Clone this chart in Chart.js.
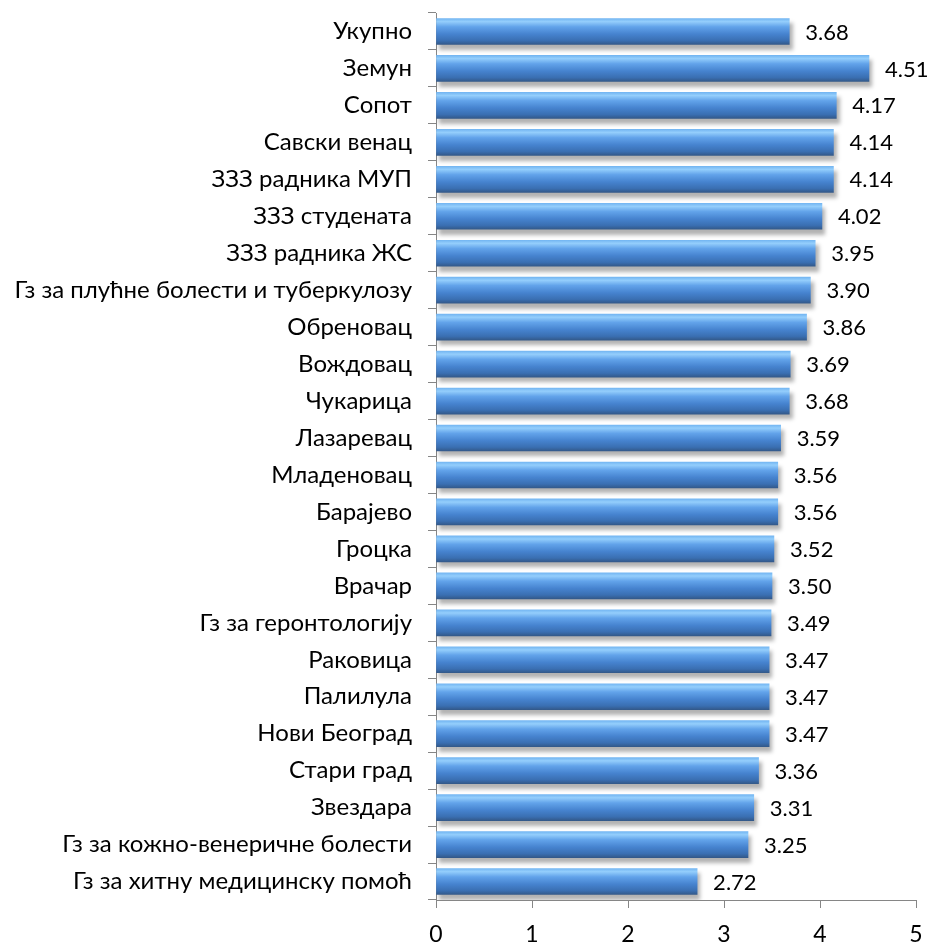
<!DOCTYPE html>
<html lang="sr">
<head>
    <meta charset="UTF-8">
    <script src="https://cdn.jsdelivr.net/npm/chart.js"></script>
    <title>Chart</title>
</head>
<style>
    body { margin: 0; background: #fff; }
</style>
<body>
    <canvas id="barChart" width="935" height="945"></canvas>
    <script>
        // data
        var categories = [
            'Укупно', 'Земун', 'Сопот', 'Савски венац', 'ЗЗЗ радника МУП',
            'ЗЗЗ студената', 'ЗЗЗ радника ЖС', 'Гз за плућне болести и туберкулозу',
            'Обреновац', 'Вождовац', 'Чукарица', 'Лазаревац', 'Младеновац',
            'Барајево', 'Гроцка', 'Врачар', 'Гз за геронтологију', 'Раковица',
            'Палилула', 'Нови Београд', 'Стари град', 'Звездара',
            'Гз за кожно-венеричне болести', 'Гз за хитну медицинску помоћ'
        ];
        var values = [3.68, 4.51, 4.17, 4.14, 4.14, 4.02, 3.95, 3.90, 3.86, 3.69, 3.68, 3.59,
            3.56, 3.56, 3.52, 3.50, 3.49, 3.47, 3.47, 3.47, 3.36, 3.31, 3.25, 2.72];
        var xTicks = [0, 1, 2, 3, 4, 5];

        var barThickness = 26;
        var fontFamily = 'Lato, "Open Sans", sans-serif';

        // vertical gradient per bar, built from the scale position
        function barGradient(context) {
            var chart = context.chart;
            var yScale = chart.scales.y;
            if (!yScale || context.dataIndex === undefined) return '#4a8cd8';
            var yc = yScale.getPixelForValue(context.dataIndex);
            if (!isFinite(yc)) return '#4a8cd8';
            var top = yc - barThickness / 2, bottom = yc + barThickness / 2;
            var g = chart.ctx.createLinearGradient(0, top, 0, bottom);
            g.addColorStop(0, '#74b6f2');
            g.addColorStop(0.12, '#94cefc');
            g.addColorStop(0.32, '#62a3ea');
            g.addColorStop(0.6, '#4683cf');
            g.addColorStop(0.85, '#3a6fb2');
            g.addColorStop(1, '#33598a');
            return g;
        }

        // soft shadow under the bars
        var shadowPlugin = {
            id: 'barShadow',
            beforeDatasetDraw: function (chart) {
                var ctx = chart.ctx;
                ctx.save();
                ctx.shadowColor = 'rgba(0,0,0,0.3)';
                ctx.shadowBlur = 4;
                ctx.shadowOffsetX = 3;
                ctx.shadowOffsetY = 5;
            },
            afterDatasetDraw: function (chart) {
                chart.ctx.restore();
            }
        };

        // value labels at the end of each bar
        var valueLabels = {
            id: 'valueLabels',
            afterDatasetsDraw: function (chart) {
                var ctx = chart.ctx;
                var meta = chart.getDatasetMeta(0);
                ctx.save();
                ctx.font = '22px ' + fontFamily;
                ctx.fillStyle = '#000';
                ctx.textAlign = 'left';
                ctx.textBaseline = 'middle';
                meta.data.forEach(function (bar, i) {
                    ctx.fillText(values[i].toFixed(2), bar.x + 16, bar.y + 1);
                });
                ctx.restore();
            }
        };

        var ctx = document.getElementById('barChart').getContext('2d');
        new Chart(ctx, {
            type: 'bar',
            data: {
                labels: categories,
                datasets: [{
                    data: values,
                    backgroundColor: barGradient,
                    borderWidth: 0,
                    barThickness: barThickness
                }]
            },
            options: {
                indexAxis: 'y',
                responsive: false,
                animation: false,
                layout: { padding: { top: 13, right: 19 } },
                plugins: {
                    legend: { display: false },
                    tooltip: { enabled: false }
                },
                scales: {
                    x: {
                        min: 0,
                        max: 5,
                        afterBuildTicks: function (scale) {
                            scale.ticks = xTicks.map(function (v) { return { value: v }; });
                        },
                        afterFit: function (scale) {
                            scale.height = 45;
                            scale.paddingLeft = 0;
                            scale.paddingRight = 0;
                        },
                        grid: { drawOnChartArea: false, tickLength: 8, color: '#868686' },
                        border: { color: '#868686' },
                        ticks: { color: '#000', padding: 13, font: { family: fontFamily, size: 23 } }
                    },
                    y: {
                        afterFit: function (scale) {
                            scale.width = 436;
                            scale.paddingTop = 0;
                            scale.paddingBottom = 0;
                        },
                        grid: { drawOnChartArea: false, tickLength: 8, color: '#868686', offset: true },
                        border: { color: '#868686' },
                        ticks: { color: '#000', padding: 16, autoSkip: false, font: { family: fontFamily, size: 24 } }
                    }
                }
            },
            plugins: [shadowPlugin, valueLabels]
        });
    </script>
</body>
</html>
